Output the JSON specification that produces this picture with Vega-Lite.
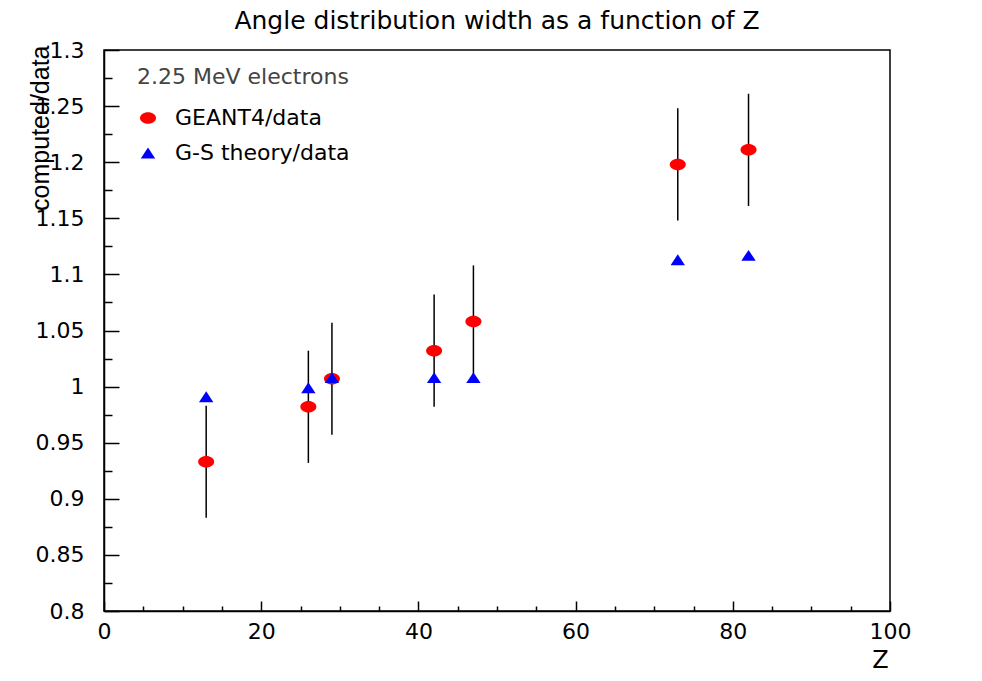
{
  "$schema": "https://vega.github.io/schema/vega-lite/v6.json",
  "width": 786,
  "height": 561,
  "autosize": {"type": "none"},
  "padding": {"left": 104, "top": 50, "right": 92, "bottom": 70},
  "background": "white",
  "title": {
    "text": "Angle distribution width as a function of Z",
    "fontSize": 25,
    "fontWeight": "normal",
    "font": "DejaVu Sans",
    "color": "black",
    "anchor": "middle",
    "offset": 5
  },
  "config": {
    "view": {"stroke": "black", "strokeWidth": 1.5},
    "font": "DejaVu Sans",
    "axis": {
      "domainColor": "black",
      "domainWidth": 1.5,
      "tickColor": "black",
      "tickWidth": 1.5,
      "grid": false,
      "labelColor": "black",
      "labelFont": "DejaVu Sans",
      "labelFontSize": 22,
      "titleFont": "DejaVu Sans",
      "titleFontWeight": "normal",
      "titleColor": "black"
    }
  },
  "data": {
    "values": [
      {"Z": 13, "r": 0.933, "lo": 0.883, "hi": 0.983, "series": "GEANT4/data"},
      {"Z": 26, "r": 0.982, "lo": 0.932, "hi": 1.032, "series": "GEANT4/data"},
      {"Z": 29, "r": 1.007, "lo": 0.957, "hi": 1.057, "series": "GEANT4/data"},
      {"Z": 42, "r": 1.032, "lo": 0.982, "hi": 1.082, "series": "GEANT4/data"},
      {"Z": 47, "r": 1.058, "lo": 1.008, "hi": 1.108, "series": "GEANT4/data"},
      {"Z": 73, "r": 1.198, "lo": 1.148, "hi": 1.248, "series": "GEANT4/data"},
      {"Z": 82, "r": 1.211, "lo": 1.161, "hi": 1.261, "series": "GEANT4/data"},
      {"Z": 13, "r": 0.991, "series": "G-S theory/data"},
      {"Z": 26, "r": 0.999, "series": "G-S theory/data"},
      {"Z": 29, "r": 1.008, "series": "G-S theory/data"},
      {"Z": 42, "r": 1.008, "series": "G-S theory/data"},
      {"Z": 47, "r": 1.008, "series": "G-S theory/data"},
      {"Z": 73, "r": 1.113, "series": "G-S theory/data"},
      {"Z": 82, "r": 1.117, "series": "G-S theory/data"}
    ]
  },
  "resolve": {"axis": {"x": "independent", "y": "independent"}},
  "layer": [
    {
      "transform": [{"filter": "isValid(datum.lo)"}],
      "mark": {"type": "rule", "color": "black", "strokeWidth": 1.5},
      "encoding": {
        "x": {
          "field": "Z", "type": "quantitative",
          "scale": {"domain": [0, 100], "nice": false},
          "axis": {
            "orient": "bottom",
            "values": [0, 20, 40, 60, 80, 100],
            "tickSize": -10,
            "labelPadding": 20,
            "labelFlush": false,
            "format": "d",
            "title": "Z",
            "titleFontSize": 24,
            "titleX": 776,
            "titleY": 49,
            "titleBaseline": "middle",
            "titleAlign": "center"
          }
        },
        "y": {
          "field": "lo", "type": "quantitative",
          "scale": {"domain": [0.8, 1.3], "nice": false, "zero": false},
          "axis": {
            "orient": "left",
            "values": [0.8, 0.85, 0.9, 0.95, 1, 1.05, 1.1, 1.15, 1.2, 1.25, 1.3],
            "format": ".3~g",
            "tickSize": -15,
            "labelPadding": 35,
            "labelFlush": false,
            "title": "computed/data",
            "titleFont": "Liberation Sans",
            "titleFontSize": 25,
            "titleAngle": 270,
            "titleX": -64,
            "titleY": -5,
            "titleAlign": "right",
            "titleBaseline": "middle"
          }
        },
        "y2": {"field": "hi"}
      }
    },
    {
      "mark": {"type": "point", "filled": true, "opacity": 1, "size": 256},
      "encoding": {
        "x": {
          "field": "Z", "type": "quantitative",
          "scale": {"domain": [0, 100], "nice": false},
          "axis": {
            "orient": "bottom",
            "values": [5, 10, 15, 25, 30, 35, 45, 50, 55, 65, 70, 75, 85, 90, 95],
            "tickSize": -5,
            "labels": false,
            "domain": false,
            "title": null
          }
        },
        "y": {
          "field": "r", "type": "quantitative",
          "scale": {"domain": [0.8, 1.3], "nice": false, "zero": false},
          "axis": {
            "orient": "left",
            "values": [0.825, 0.875, 0.925, 0.975, 1.025, 1.075, 1.125, 1.175, 1.225, 1.275],
            "tickSize": -8,
            "labels": false,
            "domain": false,
            "title": null
          }
        },
        "color": {
          "field": "series", "type": "nominal",
          "scale": {"domain": ["GEANT4/data", "G-S theory/data"], "range": ["#ff0000", "#0000ff"]},
          "legend": {
            "orient": "none",
            "legendX": 33,
            "legendY": 17,
            "title": "2.25 MeV electrons",
            "titleFont": "DejaVu Sans",
            "titleFontSize": 22,
            "titleFontWeight": "normal",
            "titleColor": "#444444",
            "titleLimit": 400,
            "titlePadding": 18,
            "labelFont": "DejaVu Sans",
            "labelFontSize": 22,
            "labelLimit": 400,
            "labelColor": "black",
            "labelOffset": 16,
            "rowPadding": 13,
            "symbolSize": 256,
            "symbolStrokeWidth": 0,
            "padding": 0
          }
        },
        "shape": {
          "field": "series", "type": "nominal",
          "scale": {
            "domain": ["GEANT4/data", "G-S theory/data"],
            "range": ["M -1 0 A 1 0.72 0 1 0 1 0 A 1 0.72 0 1 0 -1 0 Z", "M -0.9 0.68 L 0.9 0.68 L 0 -0.68 Z"]
          },
          "legend": null
        }
      }
    }
  ]
}
